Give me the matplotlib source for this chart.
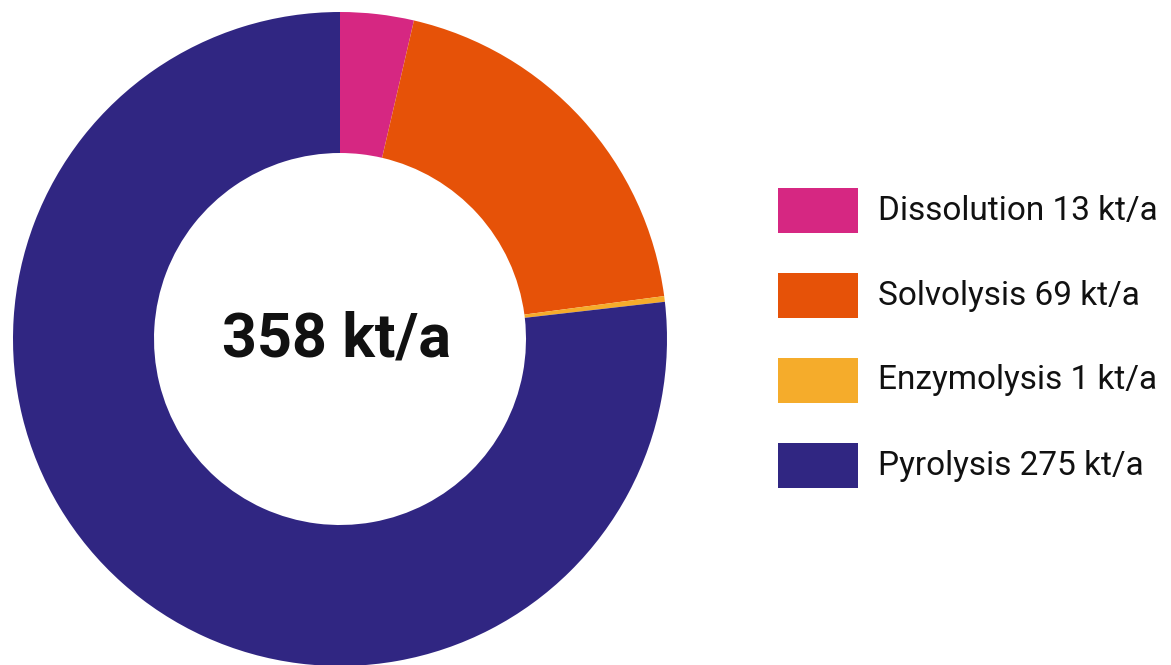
import matplotlib
matplotlib.use("Agg")
import matplotlib.pyplot as plt
from matplotlib.patches import Rectangle

categories = ["Dissolution", "Solvolysis", "Enzymolysis", "Pyrolysis"]
values = [13, 69, 1, 275]
colors = ["#D62782", "#E65208", "#F5AC2B", "#302682"]
unit = "kt/a"
total = sum(values)

W, H = 1171, 665
fig = plt.figure(figsize=(W / 100, H / 100), dpi=100)
ax = fig.add_axes([0, 0, 1, 1])

outer_r = 327
ring_w = 141
center = (340, H - 339)

wedges, _ = ax.pie(values, colors=colors, startangle=90, counterclock=False,
                   radius=outer_r, center=center, frame=True,
                   wedgeprops=dict(width=ring_w, linewidth=0))
ax.set_xlim(0, W)
ax.set_ylim(0, H)
ax.set_aspect("equal")
ax.axis("off")

ax.text(center[0] - 4, center[1], f"{total} {unit}", ha="center", va="center",
        fontsize=44, fontweight="bold", family="Roboto", color="#111111")

# legend: colour swatches with labels
box_x, box_w, box_h = 778, 80, 45
row_top = [188, 273, 358, 443]
for cat, val, col, top in zip(categories, values, colors, row_top):
    ax.add_patch(Rectangle((box_x, H - top - box_h), box_w, box_h,
                           facecolor=col, edgecolor="none"))
    ax.text(878, H - top - box_h / 2, f"{cat} {val} {unit}", ha="left",
            va="center", fontsize=24, family="Roboto", color="#111111")

fig.savefig("out.png", dpi=100)
